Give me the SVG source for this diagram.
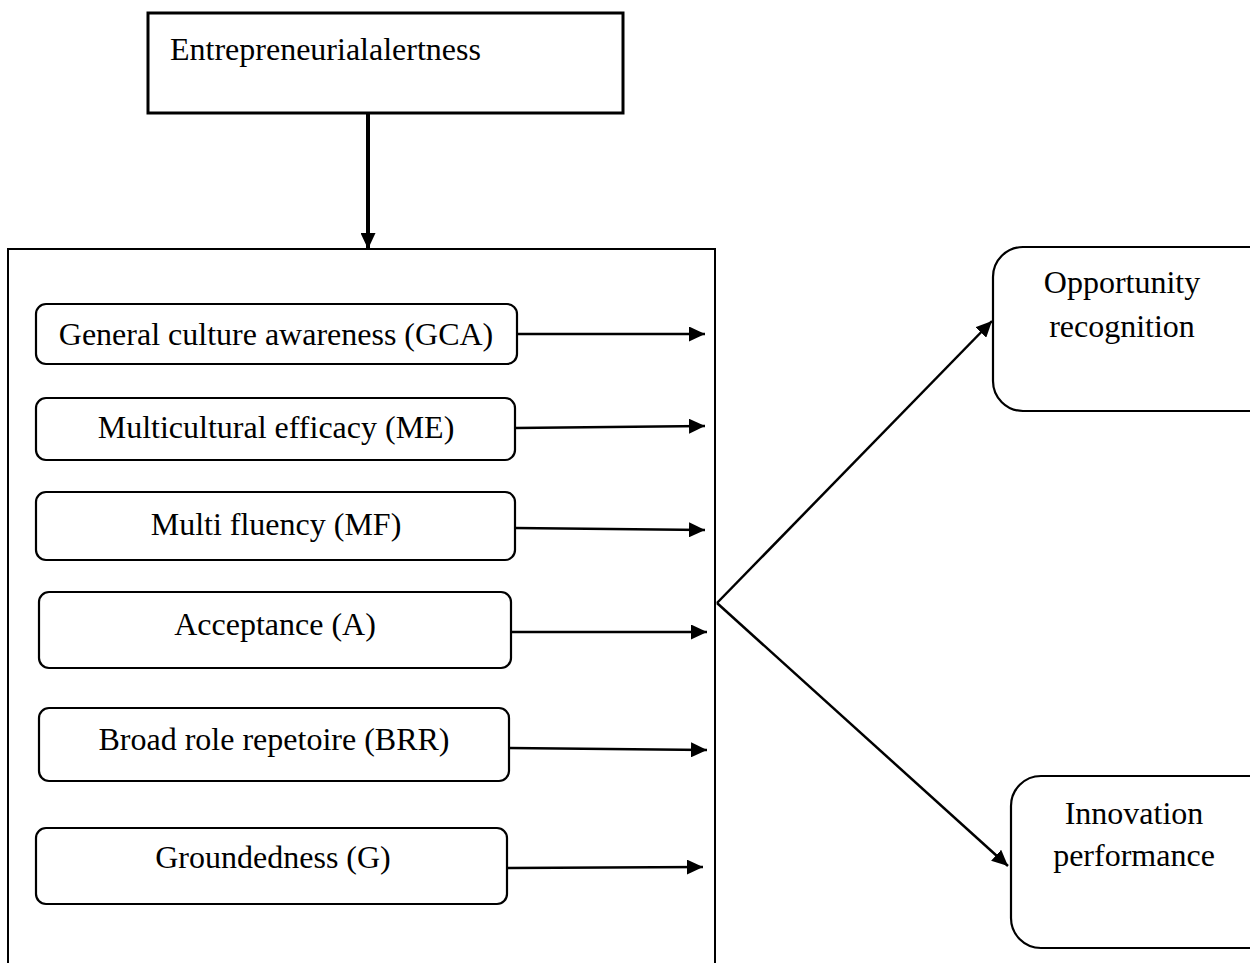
<svg xmlns="http://www.w3.org/2000/svg" width="1250" height="963" viewBox="0 0 1250 963">
<defs>
<marker id="ah" viewBox="0 0 16 15" markerWidth="16" markerHeight="15" refX="16" refY="7.5" orient="auto" markerUnits="userSpaceOnUse">
<path d="M0,0 L16,7.5 L0,15 z" fill="#000"/>
</marker>
<style>
text{font-family:"Liberation Serif","Times New Roman",serif;font-size:32px;fill:#000}
.c{text-anchor:middle}
.box{fill:#fff;stroke:#000;stroke-width:2.2}
.conn line{stroke:#000;stroke-width:2.5;marker-end:url(#ah)}
</style>
</defs>
<rect width="1250" height="963" fill="#fff"/>
<g id="container">
<rect x="8" y="249" width="707" height="730" fill="none" stroke="#000" stroke-width="2"/>
</g>
<g id="entrepreneurial-alertness">
<rect x="148" y="13" width="475" height="100" fill="#fff" stroke="#000" stroke-width="3"/>
<text x="170" y="60">Entrepreneurialalertness</text>
</g>
<g id="gca">
<rect class="box" x="36" y="304" width="481" height="60" rx="10"/>
<text class="c" x="276" y="345">General culture awareness (GCA)</text>
</g>
<g id="me">
<rect class="box" x="36" y="398" width="479" height="62" rx="10"/>
<text class="c" x="276" y="438">Multicultural efficacy (ME)</text>
</g>
<g id="mf">
<rect class="box" x="36" y="492" width="479" height="68" rx="10"/>
<text class="c" x="276" y="535">Multi fluency (MF)</text>
</g>
<g id="a">
<rect class="box" x="39" y="592" width="472" height="76" rx="10"/>
<text class="c" x="275" y="635">Acceptance (A)</text>
</g>
<g id="brr">
<rect class="box" x="39" y="708" width="470" height="73" rx="10"/>
<text class="c" x="274" y="750">Broad role repetoire (BRR)</text>
</g>
<g id="g">
<rect class="box" x="36" y="828" width="471" height="76" rx="10"/>
<text class="c" x="273" y="868">Groundedness (G)</text>
</g>
<g id="opportunity-recognition">
<rect class="box" x="993" y="247" width="290" height="164" rx="30"/>
<text class="c" x="1122" y="293">Opportunity</text>
<text class="c" x="1122" y="337">recognition</text>
</g>
<g id="innovation-performance">
<rect class="box" x="1011" y="776" width="270" height="172" rx="30"/>
<text class="c" x="1134" y="824">Innovation</text>
<text class="c" x="1134" y="866">performance</text>
</g>
<g id="connectors" class="conn">
<line x1="368" y1="113" x2="368" y2="249" style="stroke-width:4"/>
<line x1="517" y1="334" x2="705" y2="334"/>
<line x1="515" y1="428" x2="705" y2="426"/>
<line x1="515" y1="528" x2="705" y2="530"/>
<line x1="511" y1="632" x2="707" y2="632"/>
<line x1="509" y1="748" x2="707" y2="750"/>
<line x1="507" y1="868" x2="703" y2="867"/>
<line x1="717" y1="603" x2="992" y2="321"/>
<line x1="717" y1="603" x2="1008" y2="866"/>
</g>
</svg>
